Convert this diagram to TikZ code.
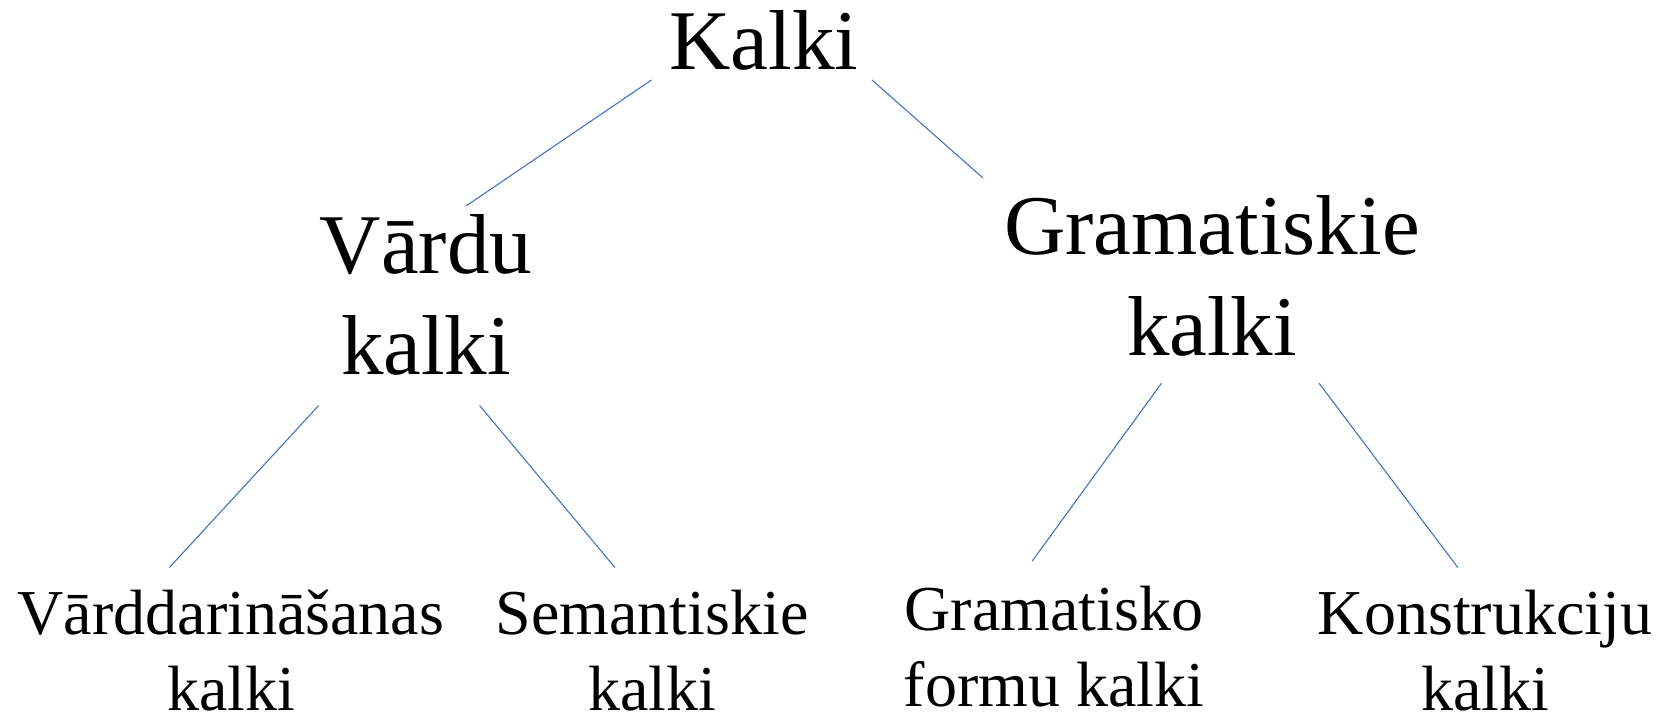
\documentclass[tikz,border=0pt]{standalone}
\usepackage{fontspec}
\setmainfont{Liberation Serif}
\definecolor{linkblue}{HTML}{4472C4}
\begin{document}
\begin{tikzpicture}[x=1pt,y=-1pt,
  big/.style={anchor=base,align=center,inner sep=0pt,
    font=\fontsize{85}{101}\selectfont},
  small/.style={anchor=base,align=center,inner sep=0pt,text depth=0pt,
    font=\fontsize{64}{76}\selectfont},
  link/.style={draw=linkblue,line width=1.1pt}]
\useasboundingbox (0,0) rectangle (1660,724);

% labels (placed at the baseline of their last line)
\node[big] (kalki) at (764,69) {Kalki};
\node[big] (vardu) at (426,374) {Vārdu\\kalki};
\node[big] (gram) at (1212,355) {Gramatiskie\\kalki};
\node[small] (vdar) at (231,710) {Vārddarināšanas\\kalki};
\node[small] (sem) at (652,710) {Semantiskie\\kalki};
\node[small] (gforma) at (1054,706) {Gramatisko\\formu kalki};
\node[small] (konstr) at (1485,710) {Konstrukciju\\kalki};

% free ends of the connectors
\coordinate (kalki-l) at (651.5,80);
\coordinate (kalki-r) at (872,80);
\coordinate (vardu-t) at (466,206);
\coordinate (gram-t) at (983,178);
\coordinate (vardu-l) at (318.7,405.5);
\coordinate (vardu-r) at (479.6,405.5);
\coordinate (gram-l) at (1161.4,383.3);
\coordinate (gram-r) at (1319.1,383.3);
\coordinate (vdar-t) at (169.4,567.5);
\coordinate (sem-t) at (615,567.5);
\coordinate (gforma-t) at (1032.2,561.1);
\coordinate (konstr-t) at (1457.8,567.5);

% connectors
\draw[link] (kalki-l) -- (vardu-t);
\draw[link] (kalki-r) -- (gram-t);
\draw[link] (vardu-l) -- (vdar-t);
\draw[link] (vardu-r) -- (sem-t);
\draw[link] (gram-l) -- (gforma-t);
\draw[link] (gram-r) -- (konstr-t);
\end{tikzpicture}
\end{document}
